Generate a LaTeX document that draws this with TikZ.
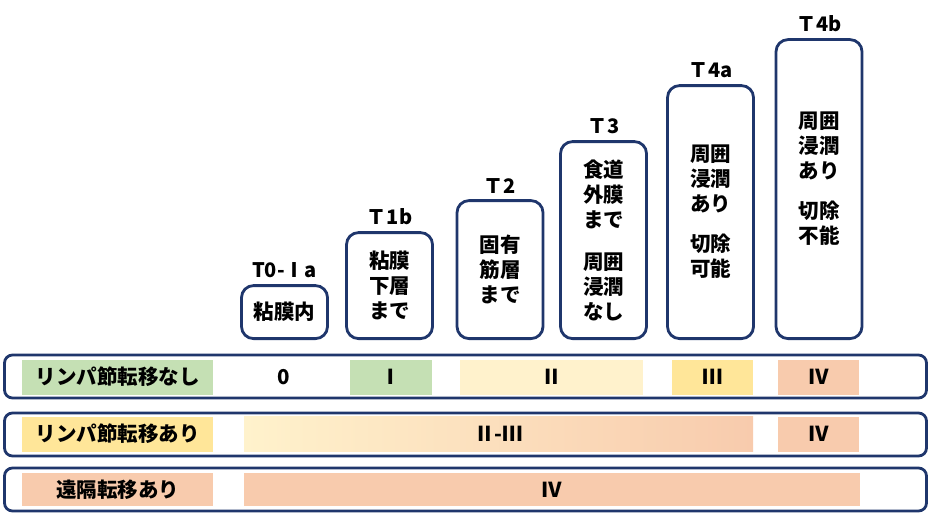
\documentclass[tikz,border=0pt]{standalone}
\usepackage{fontspec}
\setmainfont{Noto Sans CJK JP}
\usetikzlibrary{positioning}
\definecolor{stageNavy}{RGB}{31, 54, 108}
\definecolor{stageGreen}{RGB}{197, 224, 180}
\definecolor{stageCream}{RGB}{255, 242, 204}
\definecolor{stageYellow}{RGB}{255, 230, 153}
\definecolor{stagePeach}{RGB}{248, 203, 173}

\begin{document}
\begin{tikzpicture}[x=1pt, y=-1pt,
  colbox/.style={draw=stageNavy, line width=2.8pt, rounded corners=12pt, minimum width=86pt, anchor=south},
  coltext/.style={align=center, font=\fontsize{20.5}{25}\selectfont\bfseries},
  ttitle/.style={font=\fontsize{20}{24}\selectfont\bfseries, inner sep=2pt},
  rowbox/.style={draw=stageNavy, line width=2.8pt, rounded corners=8pt, minimum width=922pt, minimum height=43pt},
  cell/.style={minimum height=35pt, inner sep=0pt, font=\fontsize{20.5}{24}\selectfont\bfseries}
]
\useasboundingbox (0,0) rectangle (931,519);

% Depth columns
\node[colbox, minimum height=53pt] (t0) at (284.5,340) {};
\node[colbox, minimum height=106pt] (t1b) at (389.5,340) {};
\node[colbox, minimum height=138pt] (t2) at (500,340) {};
\node[colbox, minimum height=197pt] (t3) at (603.5,340) {};
\node[colbox, minimum height=253pt] (t4a) at (710.5,340) {};
\node[colbox, minimum height=299pt] (t4b) at (819,340) {};

\node[coltext] (t0txt) at (t0) {粘膜内};
\node[coltext] (t1btxt) at (t1b) {粘膜\\下層\\まで};
\node[coltext] (t2txt) at (t2) {固有\\筋層\\まで};
\node[coltext] (t3txt) at (t3) {食道\\外膜\\まで\\[17pt]周囲\\浸潤\\なし};
\node[coltext] (t4atxt) at (t4a) {周囲\\浸潤\\あり\\[15pt]切除\\可能};
\node[coltext, yshift=10pt] (t4btxt) at (t4b) {周囲\\浸潤\\あり\\[15pt]切除\\不能};

% T labels
\node[ttitle, above=4pt of t0] (t0lbl) {T0-Ⅰa};
\node[ttitle, above=4pt of t1b] (t1blbl) {Ｔ1b};
\node[ttitle, above=4pt of t2] (t2lbl) {Ｔ2};
\node[ttitle, above=4pt of t3] (t3lbl) {Ｔ3};
\node[ttitle, above=4pt of t4a] (t4albl) {Ｔ4a};
\node[ttitle, above=4pt of t4b] (t4blbl) {Ｔ4b};

% Stage rows
\node[rowbox] (row1) at (465.5,376.5) {};
\node[rowbox] (row2) at (465.5,434.5) {};
\node[rowbox] (row3) at (465.5,489.5) {};

\node[cell, fill=stageGreen, minimum width=191pt] (n0lbl) at (117.5,377) {リンパ節転移なし};
\node[cell] (n0s0) at (284,377) {0};
\node[cell, fill=stageGreen, minimum width=82pt] (n0s1) at (391,377) {Ⅰ};
\node[cell, fill=stageCream, minimum width=183pt] (n0s2) at (551.5,377) {Ⅱ};
\node[cell, fill=stageYellow, minimum width=81pt] (n0s3) at (712.5,377) {Ⅲ};
\node[cell, fill=stagePeach, minimum width=81pt] (n0s4) at (818.5,377) {Ⅳ};

\node[cell, fill=stageYellow, minimum width=191pt] (n1lbl) at (117.5,434) {リンパ節転移あり};
\node[cell, left color=stageCream, right color=stagePeach, minimum width=509pt] (n1s23) at (498.5,434) {Ⅱ-Ⅲ};
\node[cell, fill=stagePeach, minimum width=81pt] (n1s4) at (818.5,434) {Ⅳ};

\node[cell, fill=stagePeach, minimum width=191pt, minimum height=33pt] (m1lbl) at (117.5,489.5) {遠隔転移あり};
\node[cell, fill=stagePeach, minimum width=616pt, minimum height=33pt] (m1s4) at (552,489.5) {Ⅳ};
\end{tikzpicture}
\end{document}
